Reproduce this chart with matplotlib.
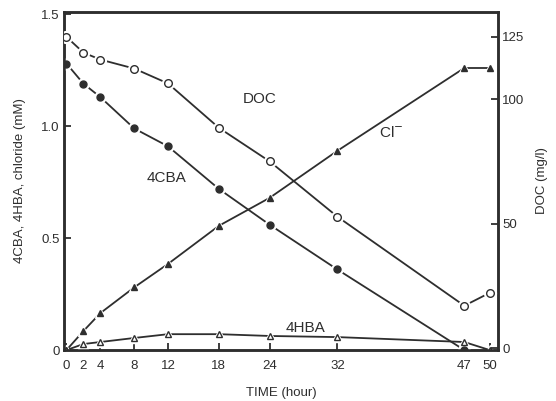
import matplotlib
matplotlib.use("Agg")
import matplotlib.pyplot as plt

plt.rcParams['font.family'] = ['Liberation Sans', 'DejaVu Sans']

# sampling times (hour)
time_h = [0, 2, 4, 8, 12, 18, 24, 32, 47, 50]

# left axis, mM
cba4 = [1.28, 1.19, 1.13, 0.99, 0.91, 0.72, 0.56, 0.36, 0.0]   # no sample at 50 h
cba4_t = time_h[:9]
chloride = [0.0, 0.085, 0.165, 0.28, 0.385, 0.555, 0.68, 0.89, 1.26, 1.26]
hba4 = [0.0, 0.027, 0.036, 0.054, 0.071, 0.071, 0.063, 0.058, 0.036, 0.0]

# right axis, mg/l
doc = [125.0, 118.7, 115.9, 112.3, 106.3, 88.5, 75.0, 52.8, 17.0, 22.2]

xticks = [0, 2, 4, 8, 12, 18, 24, 32, 47, 50]
left_ticks = [0, 0.5, 1.0, 1.5]
left_ticklabels = ["0", "0.5", "1.0", "1.5"]
right_ticks = [0, 50, 100, 125]

ink = "#2e2e2e"
fs = 9.5

fig = plt.figure(figsize=(5.56, 4.01), dpi=100)
ax = fig.add_axes([0.115, 0.127, 0.781, 0.843])
ax2 = ax.twinx()


def series(axis, t, y, marker, filled, ms):
    # line first, then a white halo so the line stops short of each marker
    axis.plot(t, y, '-', color=ink, lw=1.3, zorder=2)
    axis.plot(t, y, marker, ls='none', ms=ms + 3, mfc='white', mec='white', zorder=3)
    axis.plot(t, y, marker, ls='none', ms=ms, mfc=ink if filled else 'white',
              mec=ink, mew=1.0, zorder=4)


series(ax, cba4_t, cba4, 'o', True, 5)
series(ax, time_h, chloride, '^', True, 4.5)
series(ax, time_h, hba4, '^', False, 4.5)
series(ax2, time_h, doc, 'o', False, 5.5)

ax.set_xlim(-0.3, 51)
ax.set_ylim(0, 1.51)
ax2.set_ylim(-0.8, 135)

ax.set_xticks(xticks)
ax.set_xticklabels([str(t) for t in xticks])
ax.set_yticks(left_ticks)
ax.set_yticklabels(left_ticklabels)
ax2.set_yticks(right_ticks)
ax2.set_yticklabels([str(v) for v in right_ticks])

for a in (ax, ax2):
    for sp in a.spines.values():
        sp.set_linewidth(1.8)
        sp.set_color(ink)
    a.tick_params(direction='in', length=5, width=1.3, colors=ink, labelsize=fs, pad=3)
ax.tick_params(axis='x', pad=7)

ax.set_xlabel("TIME (hour)", fontsize=fs, color=ink, labelpad=11)
ax.set_ylabel("4CBA, 4HBA, chloride (mM)", fontsize=fs, color=ink, labelpad=11)
ax2.set_ylabel("DOC (mg/l)", fontsize=fs, color=ink, rotation=90, labelpad=8)

ax.text(22.8, 1.12, "DOC", fontsize=11, color=ink, ha='center', va='center')
ax.text(11.8, 0.77, "4CBA", fontsize=11, color=ink, ha='center', va='center')
ax.text(38.3, 0.97, "Cl$^{-}$", fontsize=11, color=ink, ha='center', va='center')
ax.text(28.2, 0.10, "4HBA", fontsize=11, color=ink, ha='center', va='center')

fig.savefig("out.png", dpi=100)
